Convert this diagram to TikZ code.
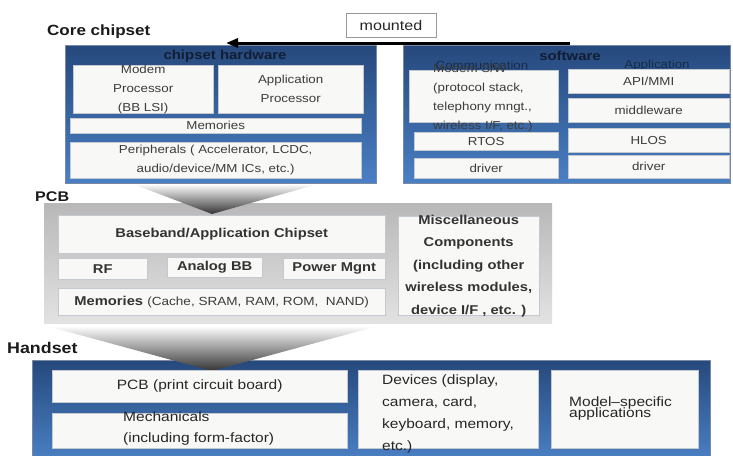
\documentclass[tikz,border=0pt]{standalone}
\usepackage{fontspec}
\setmainfont{Liberation Sans}[FakeStretch=1.15]
\usepackage{tikz}
\usetikzlibrary{arrows.meta,positioning}
\definecolor{PanelTop}{HTML}{26497D}
\definecolor{PanelBottom}{HTML}{4A80C4}
\definecolor{PanelEdge}{HTML}{1E3A63}
\definecolor{CellFill}{HTML}{F8F8F6}
\definecolor{CellEdge}{HTML}{C4C9CF}
\definecolor{CellText}{HTML}{3C3C3C}
\definecolor{TitleText}{HTML}{111E33}
\definecolor{BoardTop}{HTML}{B8B8B8}
\definecolor{BoardBottom}{HTML}{E2E2E2}
\definecolor{LabelText}{HTML}{1A1A1A}
\tikzset{
  bluepanel/.style={anchor=north west,inner sep=0pt,top color=PanelTop,bottom color=PanelBottom,
                    draw=PanelEdge!60,line width=0.5pt},
  graypanel/.style={anchor=north west,inner sep=0pt,top color=BoardTop,
                    bottom color=BoardBottom,draw=none},
  cell/.style={anchor=north west,inner sep=0pt,fill=CellFill,draw=CellEdge,line width=0.4pt,
               align=center,text=CellText,font=\fontsize{11.6}{19}\selectfont},
  cellnote/.style={inner sep=0pt,align=center,text=CellText,font=\fontsize{11.6}{19}\selectfont},
  pcbcell/.style={cell,text=black!80,font=\bfseries\fontsize{12.8}{22.5}\selectfont},
  handcell/.style={cell,text=black!85,font=\fontsize{13.5}{22}\selectfont},
  headline/.style={font=\bfseries\fontsize{13}{15}\selectfont,text=TitleText},
  sublabel/.style={font=\fontsize{11.6}{14}\selectfont,text=TitleText!70!PanelTop},
  tierlabel/.style={anchor=west,inner sep=0pt,font=\bfseries\fontsize{14.8}{17}\selectfont,text=LabelText},
  mountbox/.style={draw=gray!80,fill=white,line width=0.8pt,minimum width=90,minimum height=24,
                   inner sep=0pt,font=\fontsize{14}{16}\selectfont,text=black!85},
  mountarrow/.style={-{Triangle[length=12pt,width=9pt]},line width=3pt,draw=black},
  funnel/.style={top color=white,bottom color=black!80}
}

\begin{document}
\begin{tikzpicture}[x=1pt,y=-1pt]
  \fill[white] (0,0) rectangle (733,455);
  \useasboundingbox (0,0) rectangle (733,455);

  % core chipset: hardware and software side by side
  \node[tierlabel] (corelabel) at (47,32) {Core chipset};
  \node[mountbox] (mounted) at (391,25) {mounted};

  \node[bluepanel,minimum width=311,minimum height=138] (hw) at (65,45) {};
  \node[headline] (hwtitle) at (225,56) {chipset hardware};
  \node[cell,minimum width=140,minimum height=48] (modem) at (73,65) {};
  \node[cellnote] (modemtxt) at (modem.center) {Modem\\Processor\\(BB LSI)};
  \node[cell,minimum width=145,minimum height=48] (approc) at (218,65) {Application\\Processor};
  \node[cell,minimum width=291,minimum height=15] (hwmem) at (70,118) {Memories};
  \node[cell,minimum width=291,minimum height=36] (periph) at (70,142)
       {Peripherals ( Accelerator, LCDC,\\audio/device/MM ICs, etc.)};

  \node[bluepanel,minimum width=327,minimum height=138] (sw) at (403,45) {};
  \node[headline] (swtitle) at (570,56) {software};
  \node[cell,minimum width=149,minimum height=52] (modemsw) at (409,70) {};
  \node[sublabel] (commlabel) at (482,65) {Communication};
  \node[cellnote,align=left,anchor=north west] (modemswtxt) at (433,64)
       {Modem S/W\\(protocol stack,\\telephony mngt.,\\wireless I/F, etc.)};
  \node[cell,minimum width=144,minimum height=18] (rtos) at (414,132) {RTOS};
  \node[cell,minimum width=144,minimum height=20] (drvcomm) at (414,158) {driver};
  \node[sublabel] (applabel) at (657,65) {Application};
  \node[cell,minimum width=161,minimum height=24] (apimmi) at (568,69) {API/MMI};
  \node[cell,minimum width=161,minimum height=24] (midware) at (568,98) {middleware};
  \node[cell,minimum width=161,minimum height=24] (hlos) at (568,128) {HLOS};
  \node[cell,minimum width=161,minimum height=23] (drvapp) at (568,155) {driver};

  \coordinate (mountstart) at (570,43);
  \coordinate (mounttip) at (226,43);
  \draw[mountarrow] (mountstart) -- (mounttip);

  % PCB
  \node[tierlabel,font=\bfseries\fontsize{14}{16}\selectfont] (pcblabel) at (35,197) {PCB};
  \node[graypanel,minimum width=508,minimum height=120] (board) at (44,203) {};
  \shade[funnel] (133,184) -- (318,184) -- (212,214) -- cycle;
  \node[pcbcell,minimum width=327,minimum height=38] (bbchip) at (58,215) {Baseband/Application Chipset};
  \node[pcbcell,minimum width=89,minimum height=21] (rf) at (58,258) {RF};
  \node[pcbcell,minimum width=95,minimum height=20] (analog) at (167,257) {Analog BB};
  \node[pcbcell,minimum width=102,minimum height=21] (power) at (283,258) {Power Mgnt};
  \node[pcbcell,minimum width=327,minimum height=27] (boardmem) at (58,288)
       {Memories {\mdseries\color{CellText}\fontsize{11.8}{14}\selectfont (Cache, SRAM, RAM, ROM,~ NAND)}};
  \node[pcbcell,minimum width=141,minimum height=99] (misc) at (398,216) {};
  \node[cellnote,text=black!80,font=\bfseries\fontsize{12.8}{22.5}\selectfont] (misctxt) at (misc.center)
       {Miscellaneous\\Components\\(including other\\wireless modules,\\device I/F , etc. )};

  % handset
  \node[tierlabel,font=\bfseries\fontsize{15.5}{17}\selectfont] (handlabel) at (7,348) {Handset};
  \node[bluepanel,minimum width=678,minimum height=100] (hand) at (32,360) {};
  \shade[funnel] (47,326) -- (378,326) -- (212,371) -- cycle;
  \node[handcell,minimum width=295,minimum height=32] (pcbboard) at (52,370) {PCB (print circuit board)};
  \node[handcell,minimum width=295,minimum height=35] (mech) at (52,413) {};
  \node[cellnote,align=left,anchor=north west,text=black!85,font=\fontsize{13.5}{21}\selectfont] (mechtxt)
       at (123,412) {Mechanicals\\(including form-factor)};
  \node[handcell,minimum width=180,minimum height=78] (devices) at (358,370) {};
  \node[cellnote,align=left,anchor=north west,text=black!85,font=\fontsize{13.5}{22}\selectfont] (devtxt)
       at (382,375) {Devices (display,\\camera, card,\\keyboard, memory,\\etc.)};
  \node[handcell,minimum width=147,minimum height=78] (model) at (551,370) {};
  \node[cellnote,align=left,anchor=north west,text=black!85,
        font={\fontsize{13.5}{11}\selectfont\lineskiplimit=-20pt}] (modeltxt)
       at (569,397) {Model\textendash specific\\applications};
\end{tikzpicture}
\end{document}
